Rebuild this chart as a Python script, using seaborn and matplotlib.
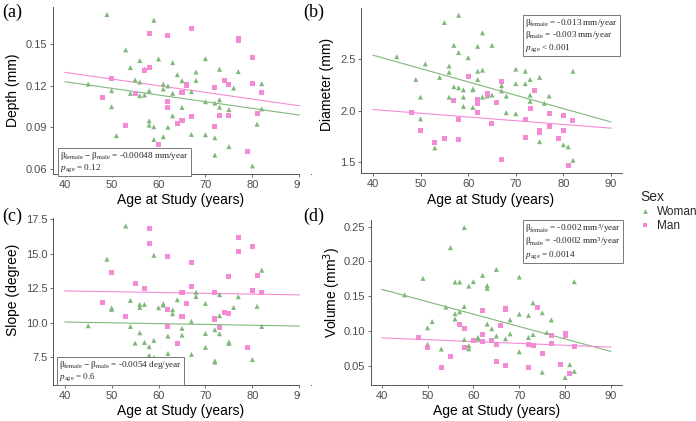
import numpy as np
import pandas as pd
import matplotlib
matplotlib.use("Agg")
import matplotlib.pyplot as plt
from matplotlib.patches import Rectangle
from matplotlib.lines import Line2D
import seaborn as sns

# ---------------- data ----------------
# (a) Depth (mm)
a_w_age = [45, 49, 50, 50, 51, 53, 54, 54, 55, 56, 56, 56, 57, 57, 58, 58, 58, 59, 59, 59, 60, 61, 61, 61, 62, 62,
           63, 63, 63, 64, 65, 65, 67, 67, 68, 68, 70, 70, 70, 72, 72, 72, 73, 73, 73, 75, 75, 76, 77, 80, 81, 82, 82]
a_w_val = [0.1212, 0.1711, 0.1164, 0.1049, 0.0841, 0.1457, 0.1330, 0.1145, 0.1241, 0.1380, 0.1226, 0.1128, 0.1320,
           0.1133, 0.1164, 0.0948, 0.0917, 0.1670, 0.0905, 0.0814, 0.1392, 0.1212, 0.1176, 0.0834, 0.1198, 0.0902,
           0.1366, 0.1145, 0.0984, 0.1279, 0.1236, 0.1044, 0.1157, 0.0850, 0.1298, 0.1238, 0.1394, 0.1085, 0.0848,
           0.1075, 0.0826, 0.0702, 0.1318, 0.1099, 0.1046, 0.1029, 0.0763, 0.1183, 0.1301, 0.0624, 0.0924, 0.1214, 0.1034]
a_m_age = [48, 50, 53, 55, 57, 58, 58, 60, 62, 62, 62, 64, 65, 65, 66, 67, 67, 72, 72, 73, 74, 75, 75, 77, 77, 79,
           80, 80, 81, 82]
a_m_val = [0.1116, 0.1253, 0.0914, 0.1143, 0.1308, 0.1577, 0.1332, 0.0775, 0.1562, 0.1090, 0.1042, 0.0931, 0.1150,
           0.0948, 0.1205, 0.1610, 0.0982, 0.1186, 0.0910, 0.0986, 0.1236, 0.1210, 0.0984, 0.1536, 0.1524, 0.0726,
           0.1400, 0.1214, 0.0998, 0.1150]
a_line_w = [0.1229, 0.0989]
a_line_m = [0.1296, 0.1056]

# (b) Diameter (mm)
b_w_age = [45, 49, 50, 50, 51, 53, 54, 55, 56, 56, 56, 57, 57, 58, 58, 58, 59, 59, 59, 60, 61, 61, 61, 62, 62, 62,
           63, 63, 63, 64, 65, 65, 67, 67, 68, 68, 70, 70, 70, 72, 72, 73, 73, 73, 75, 75, 76, 77, 80, 81, 82, 82]
b_w_val = [2.52, 2.30, 2.13, 1.92, 2.45, 1.64, 2.32, 2.85, 2.43, 2.37, 2.13, 2.63, 2.23, 2.92, 2.56, 2.22, 2.20, 2.13,
           2.04, 2.51, 2.21, 2.20, 2.03, 2.38, 2.30, 2.62, 2.75, 2.39, 2.13, 2.14, 2.63, 2.15, 2.24, 2.19, 2.14, 1.98,
           2.40, 2.26, 1.97, 2.38, 2.26, 2.30, 2.15, 2.09, 2.32, 1.70, 2.07, 2.14, 1.67, 1.65, 2.38, 1.52]
b_m_age = [48, 50, 53, 55, 57, 58, 58, 60, 62, 62, 62, 62, 64, 65, 66, 67, 67, 72, 72, 73, 74, 75, 75, 77, 77, 79,
           80, 80, 81, 82]
b_m_val = [1.98, 1.81, 1.69, 1.73, 2.10, 1.91, 1.72, 2.33, 2.11, 2.09, 2.07, 1.98, 2.16, 1.88, 2.08, 2.28, 1.53, 1.91,
           1.74, 2.02, 2.19, 1.81, 1.79, 1.97, 1.85, 1.73, 1.95, 1.81, 1.47, 1.90]
b_line_w = [2.535, 1.89]
b_line_m = [2.01, 1.83]

# (c) Slope (degree)
c_w_age = [45, 49, 50, 50, 51, 53, 54, 54, 55, 56, 56, 56, 57, 57, 58, 58, 59, 59, 59, 60, 61, 61, 62, 62, 62, 63,
           63, 64, 65, 65, 67, 67, 68, 68, 70, 70, 70, 72, 72, 72, 73, 73, 73, 75, 75, 76, 77, 80, 81, 82, 82]
c_w_val = [9.78, 14.61, 11.07, 10.97, 6.56, 17.02, 11.62, 9.73, 8.52, 11.33, 11.11, 9.27, 11.33, 8.57, 8.26, 7.63,
           14.89, 8.72, 7.48, 11.09, 11.38, 11.28, 9.03, 7.77, 6.03, 10.94, 10.65, 11.67, 9.59, 9.10, 10.10, 7.70,
           12.21, 11.90, 11.40, 9.22, 8.21, 9.49, 7.23, 7.14, 12.04, 10.51, 9.20, 8.60, 8.50, 11.11, 11.89, 7.33,
           11.19, 13.81, 9.73]
c_m_age = [48, 50, 53, 55, 57, 58, 58, 60, 62, 62, 62, 64, 65, 65, 66, 67, 67, 72, 72, 73, 74, 75, 75, 77, 77, 79,
           80, 80, 81, 82]
c_m_val = [11.45, 13.65, 10.46, 12.86, 12.48, 16.87, 15.73, 6.58, 14.79, 10.94, 9.69, 8.50, 12.21, 10.48, 11.43,
           14.36, 12.62, 12.19, 10.27, 9.64, 10.73, 10.68, 13.39, 16.19, 15.17, 8.23, 15.51, 12.33, 13.43, 12.19]
c_line_w = [10.05, 9.76]
c_line_m = [12.31, 12.02]

# (d) Volume (mm^3)
d_w_age = [45, 49, 50, 50, 51, 53, 54, 55, 56, 56, 56, 57, 57, 58, 58, 58, 59, 59, 59, 60, 61, 61, 62, 62, 63, 63,
           63, 64, 65, 65, 67, 67, 67, 68, 68, 70, 70, 70, 72, 72, 73, 73, 75, 75, 76, 77, 80, 81, 82, 82]
d_w_val = [0.1517, 0.1754, 0.1043, 0.0804, 0.1133, 0.0738, 0.1341, 0.2196, 0.1702, 0.1246, 0.1170, 0.1702, 0.1274,
           0.2486, 0.1350, 0.0875, 0.1643, 0.0788, 0.0741, 0.1707, 0.0907, 0.0885, 0.1798, 0.0961, 0.1650, 0.1612,
           0.1097, 0.1030, 0.1883, 0.0926, 0.1336, 0.1314, 0.0885, 0.1157, 0.0956, 0.1774, 0.1241, 0.0700, 0.1222,
           0.0904, 0.1402, 0.0947, 0.1260, 0.0405, 0.0976, 0.1157, 0.0329, 0.0514, 0.1707, 0.0419]
d_m_age = [48, 50, 53, 55, 57, 58, 58, 60, 62, 62, 62, 64, 65, 65, 66, 67, 67, 72, 72, 73, 74, 75, 77, 77, 79, 80,
           80, 81, 82]
d_m_val = [0.0899, 0.0761, 0.0467, 0.0638, 0.1084, 0.1027, 0.0756, 0.0866, 0.1288, 0.0947, 0.0842, 0.0861, 0.0809,
           0.0557, 0.1079, 0.1314, 0.0500, 0.0809, 0.0472, 0.0795, 0.1331, 0.0681, 0.0938, 0.0819, 0.0509, 0.0956,
           0.0938, 0.0386, 0.0775]
d_line_w = [0.1597, 0.0704]
d_line_m = [0.0899, 0.0766]

line_age = [40, 90]
x_ticks = [40, 50, 60, 70, 80, 90]
sexes = ["Woman", "Man"]

# ---------------- style ----------------
sns.set_theme(style="white")
plt.rcParams["font.family"] = ["Liberation Sans", "DejaVu Sans"]
plt.rcParams["mathtext.fontset"] = "custom"
plt.rcParams["mathtext.rm"] = "Liberation Serif"
plt.rcParams["mathtext.it"] = "Liberation Serif:italic"
plt.rcParams["mathtext.bf"] = "Liberation Serif:bold"

W, H = 696, 421
fig = plt.figure(figsize=(W / 100, H / 100), dpi=100)

GREEN = "#7fb87b"
PINK = "#f38bd4"
palette = {"Woman": GREEN, "Man": PINK}
markers = {"Woman": "^", "Man": "s"}
AXC = "#4d4d4d"


def px_axes(l, t, r, b):
    return fig.add_axes([l / W, 1 - b / H, (r - l) / W, (b - t) / H])


def panel(ax, wa, wv, ma, mv, lw, lm, xlim, ylim, yticks, yfmt):
    df = pd.DataFrame({
        "age": list(wa) + list(ma),
        "val": list(wv) + list(mv),
        "sex": ["Woman"] * len(wa) + ["Man"] * len(ma),
    })
    ldf = pd.DataFrame({
        "age": line_age + line_age,
        "val": list(lw) + list(lm),
        "sex": ["Woman", "Woman", "Man", "Man"],
    })
    sns.lineplot(data=ldf, x="age", y="val", hue="sex", palette=palette, ax=ax,
                 legend=False, linewidth=0.8, zorder=1)
    sns.scatterplot(data=df, x="age", y="val", hue="sex", style="sex", hue_order=sexes,
                    style_order=sexes, palette=palette, markers=markers, s=13,
                    linewidth=0, ax=ax, legend=False, zorder=2)
    ax.set_xlim(*xlim)
    ax.set_ylim(*ylim)
    ax.set_xticks(x_ticks)
    ax.set_yticks(yticks)
    ax.set_yticklabels([yfmt.format(v) for v in yticks])
    ax.set_xlabel("")
    ax.set_ylabel("")
    for s in ["top", "right"]:
        ax.spines[s].set_visible(False)
    for s in ["left", "bottom"]:
        ax.spines[s].set_color("#555555")
        ax.spines[s].set_linewidth(0.7)
    ax.tick_params(axis="both", which="both", length=2.5, width=0.6, color="#555555",
                   labelsize=8, labelcolor=AXC, pad=1.5, left=True, bottom=True)
    ax.patch.set_alpha(0)


ax_a = px_axes(53, 7, 311, 174)
panel(ax_a, a_w_age, a_w_val, a_m_age, a_m_val, a_line_w, a_line_m,
      (37.5, 92.5), (0.0566, 0.1765), [0.06, 0.09, 0.12, 0.15], "{:.2f}")
ax_b = px_axes(361, 8, 622, 173)
panel(ax_b, b_w_age, b_w_val, b_m_age, b_m_val, b_line_w, b_line_m,
      (37.5, 92.3), (1.3975, 2.99), [1.5, 2.0, 2.5], "{:.1f}")
ax_c = px_axes(53, 218, 311, 385)
panel(ax_c, c_w_age, c_w_val, c_m_age, c_m_val, c_line_w, c_line_m,
      (37.5, 92.5), (5.48, 17.6), [7.5, 10.0, 12.5, 15.0, 17.5], "{:.1f}")
ax_d = px_axes(371, 220, 622, 385)
panel(ax_d, d_w_age, d_w_val, d_m_age, d_m_val, d_line_w, d_line_m,
      (37.67, 92.4), (0.0221, 0.2594), [0.05, 0.10, 0.15, 0.20, 0.25], "{:.2f}")

# clip left panels at the column boundary, like the reference
fig.patches.append(Rectangle((300 / W, 0), 11 / W, 1, transform=fig.transFigure,
                             fc="white", ec="none", zorder=1))


def ftext(x, y, s, **kw):
    return fig.text(x / W, 1 - y / H, s, **kw)


# axis titles
for (x, y, s) in [(181, 200, "Age at Study (years)"), (491, 200, "Age at Study (years)"),
                  (181, 411, "Age at Study (years)"), (497, 411, "Age at Study (years)")]:
    ftext(x, y, s, ha="center", va="center", fontsize=10, color="black")
for (x, y, s) in [(13, 90, "Depth (mm)"), (327, 84, "Diameter (mm)"),
                  (13, 290, "Slope (degree)"), (332, 292, "Volume (mm$^3$)")]:
    ftext(x, y, s, ha="center", va="center", rotation=90, fontsize=10, color="black",
          math_fontfamily="dejavusans")

# panel tags
for (x, y, s) in [(2, 12, "(a)"), (303, 12, "(b)"), (2, 216, "(c)"), (303, 216, "(d)")]:
    ftext(x, y, s, ha="left", va="center", fontsize=13, family="Liberation Serif", color="black")

# annotation boxes
box = dict(boxstyle="square,pad=0.25", fc="white", ec="#777777", lw=0.7)
notes = [
    (60, 150, r"β$_{\rm female}$ − β$_{\rm male}$ = -0.00048 mm/year" + "\n" + r"$p_{\rm age}$ = 0.12"),
    (525, 17, r"β$_{\rm female}$ = -0.013 mm/year" + "\n" + r"β$_{\rm male}$ = -0.003 mm/year"
     + "\n" + r"$p_{\rm age}$ < 0.001"),
    (59, 359, r"β$_{\rm female}$ − β$_{\rm male}$ = -0.0054 deg/year" + "\n" + r"$p_{\rm age}$ = 0.6"),
    (525, 222, r"β$_{\rm female}$ = -0.002 mm$^3$/year" + "\n" + r"β$_{\rm male}$ = -0.0002 mm$^3$/year"
     + "\n" + r"$p_{\rm age}$ = 0.0014"),
]
for (x, y, s) in notes:
    ftext(x, y, s, ha="left", va="top", fontsize=6.6, family="Liberation Serif",
          linespacing=1.05, bbox=box, zorder=5)

# legend
handles = [Line2D([], [], linestyle="none", marker=markers[k], color=palette[k], markersize=3.5,
                  markeredgewidth=0) for k in sexes]
leg = fig.legend(handles, sexes, title="Sex", loc="upper left",
                 bbox_to_anchor=(638 / W, 1 - 188 / H), frameon=False, fontsize=8.5,
                 title_fontsize=10, handlelength=0.8, handletextpad=0.6, labelspacing=0.15,
                 borderaxespad=0, borderpad=0.2)
leg._legend_box.align = "left"

fig.savefig("out.png", dpi=100, facecolor="white")
